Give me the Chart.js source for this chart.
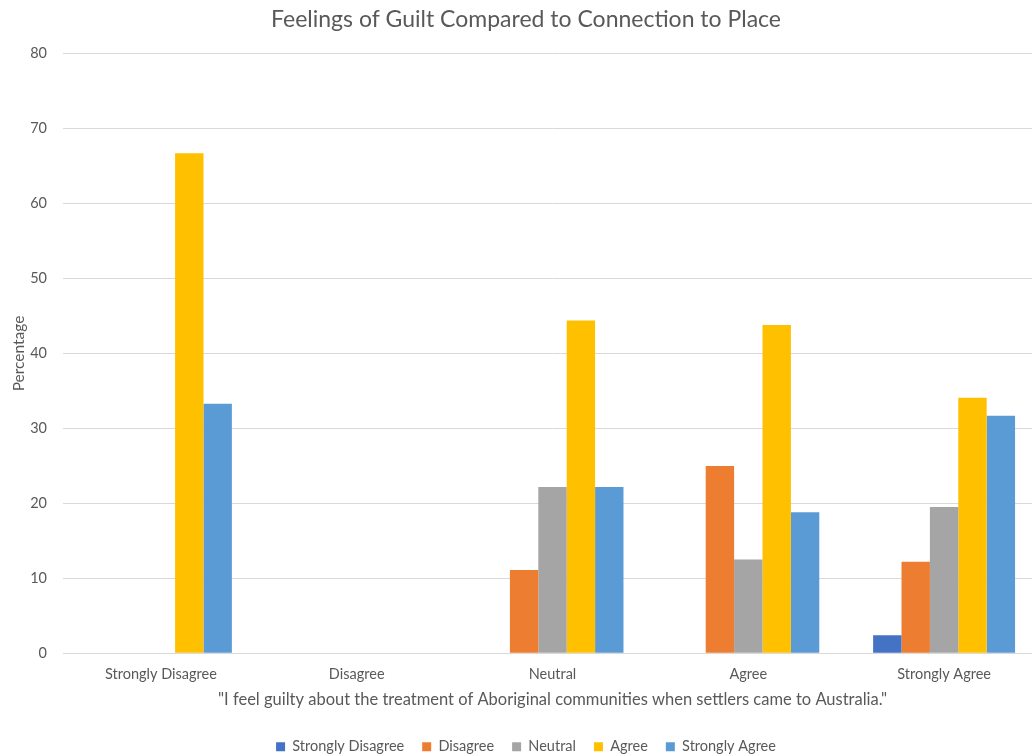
<!DOCTYPE html>
<html>
<head>
<meta charset="utf-8">
<script src="https://cdn.jsdelivr.net/npm/chart.js@4"></script>
<style>
  html, body { margin: 0; padding: 0; background: #ffffff; overflow: hidden; }
  #wrap { width: 1042px; height: 756px; position: relative; }
</style>
</head>
<body>
<div id="wrap"><canvas id="chart"></canvas></div>
<script>
// Responses to the guilt statement (x categories)
const categories = ["Strongly Disagree", "Disagree", "Neutral", "Agree", "Strongly Agree"];

// Connection-to-place groups, percentage of respondents in each category
const stronglyDisagree = [0, 0, 0, 0, 2.4];
const disagree         = [0, 0, 11.1, 25.0, 12.2];
const neutral          = [0, 0, 22.2, 12.5, 19.5];
const agree            = [66.7, 0, 44.4, 43.8, 34.1];
const stronglyAgree    = [33.3, 0, 22.2, 18.8, 31.7];

const seriesNames = ["Strongly Disagree", "Disagree", "Neutral", "Agree", "Strongly Agree"];
const seriesColors = ["#4472C4", "#ED7D31", "#A5A5A5", "#FFC000", "#5B9BD5"];
const seriesValues = [stronglyDisagree, disagree, neutral, agree, stronglyAgree];

const yTicks = [0, 10, 20, 30, 40, 50, 60, 70, 80];

const FONT = "Lato, 'Open Sans', sans-serif";
const TEXT = "#595959";

new Chart(document.getElementById("chart"), {
  type: "bar",
  data: {
    labels: categories,
    datasets: seriesNames.map((name, i) => ({
      label: name,
      data: seriesValues[i],
      backgroundColor: seriesColors[i],
      borderWidth: 0,
      categoryPercentage: 0.725,
      barPercentage: 1.0
    }))
  },
  options: {
    responsive: true,
    maintainAspectRatio: false,
    animation: false,
    layout: { padding: { left: 10, right: 0, top: 6, bottom: -8 } },
    plugins: {
      title: {
        display: true,
        text: "Feelings of Guilt Compared to Connection to Place",
        color: TEXT,
        font: { family: FONT, size: 23, weight: "normal" },
        padding: { top: 0, bottom: 20 }
      },
      legend: {
        position: "bottom",
        labels: {
          color: TEXT,
          font: { family: FONT, size: 14.5 },
          boxWidth: 9,
          boxHeight: 9,
          padding: 18
        }
      },
      tooltip: { enabled: false }
    },
    scales: {
      x: {
        grid: { display: false, drawTicks: false },
        border: { display: true, color: "#d9d9d9", width: 1 },
        ticks: { color: TEXT, font: { family: FONT, size: 14.5 }, padding: 12, maxRotation: 0 },
        title: {
          display: true,
          text: "\"I feel guilty about the treatment of Aboriginal communities when settlers came to Australia.\"",
          color: TEXT,
          font: { family: FONT, size: 16.5 },
          padding: { top: -5, bottom: 12 }
        }
      },
      y: {
        min: 0,
        max: 80,
        afterBuildTicks: (axis) => { axis.ticks = yTicks.map(v => ({ value: v })); },
        afterFit: (axis) => { axis.width = 53; },
        grid: { color: "#d9d9d9", lineWidth: 1, drawTicks: false },
        border: { display: false },
        ticks: { color: TEXT, font: { family: FONT, size: 14.5 }, padding: 16 },
        title: {
          display: true,
          text: "Percentage",
          color: TEXT,
          font: { family: FONT, size: 15.5 },
          padding: { top: 0, bottom: 0 }
        }
      }
    }
  }
});
</script>
</body>
</html>
